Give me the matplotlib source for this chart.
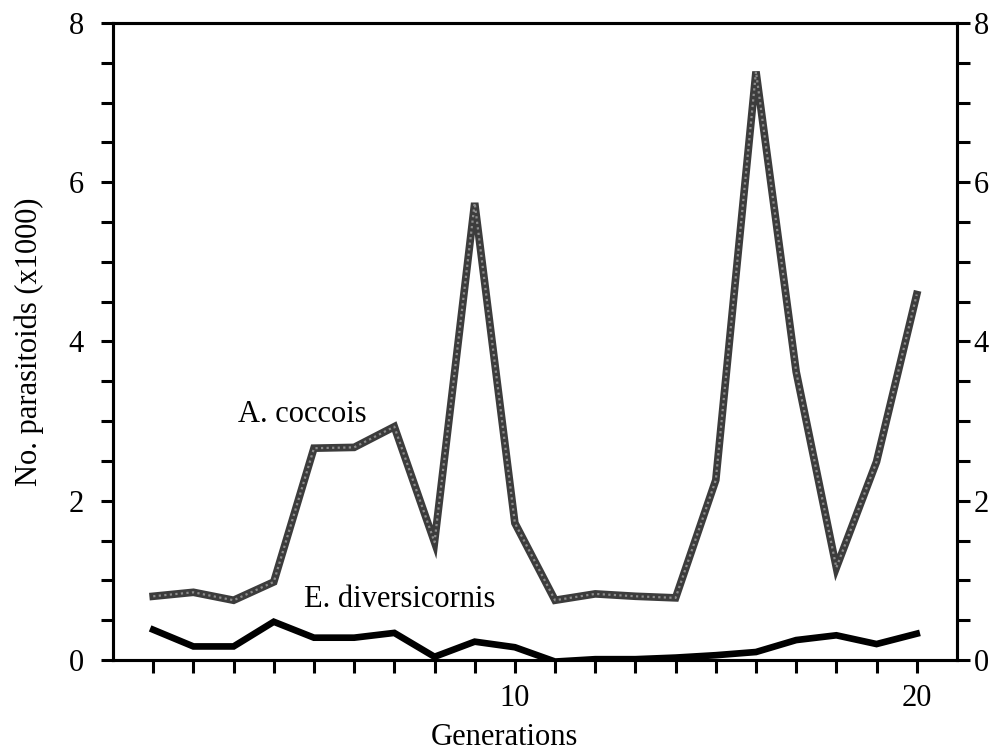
import matplotlib
matplotlib.use("Agg")
import matplotlib.pyplot as plt
from matplotlib.ticker import MultipleLocator, FixedLocator

plt.rcParams["font.family"] = "Liberation Serif"

# values (thousands of parasitoids per generation)
generations = list(range(1, 21))
a_coccois = [0.80, 0.85, 0.75, 0.98, 2.66, 2.67, 2.93, 1.48, 5.74, 1.72,
             0.75, 0.83, 0.80, 0.78, 2.26, 7.39, 3.62, 1.16, 2.49, 4.59]
e_diversicornis = [0.38, 0.17, 0.17, 0.48, 0.28, 0.28, 0.34, 0.04, 0.23, 0.16,
                   -0.02, 0.01, 0.01, 0.03, 0.06, 0.10, 0.25, 0.31, 0.20, 0.33]
x_labels = {10: "10", 20: "20"}

fig = plt.figure(figsize=(10.02, 7.54), dpi=100)
ax = fig.add_axes([0.1128, 0.1247, 0.8422, 0.8448])

# A. coccois: grey stippled line
ax.plot(generations, a_coccois, color="#3c3c3c", lw=5.5, solid_joinstyle="miter", zorder=3)
ax.plot(generations, a_coccois, color="#8c8c8c", lw=1.6, ls=(0, (1, 1.5)), zorder=4)
# E. diversicornis: thick black line
ax.plot(generations, e_diversicornis, color="black", lw=4.8, solid_joinstyle="miter", zorder=3)

ax.set_xlim(0, 21)
ax.set_ylim(0, 8)

for s in ax.spines.values():
    s.set_linewidth(2.2)

ax.xaxis.set_major_locator(FixedLocator(generations))
ax.set_xticklabels([x_labels.get(g, "") for g in generations])
ax.yaxis.set_major_locator(MultipleLocator(2))
ax.yaxis.set_minor_locator(MultipleLocator(0.5))

ax.tick_params(axis="x", which="major", direction="out", length=9, width=2.2,
               labelsize=22, pad=8)
ax.tick_params(axis="y", which="both", direction="out", length=9, width=2.2)
ax.tick_params(axis="y", which="major", labelsize=22, pad=12)

# right-hand axis repeats the same scale
ax2 = ax.twinx()
ax2.set_ylim(ax.get_ylim())
ax2.yaxis.set_major_locator(MultipleLocator(2))
ax2.yaxis.set_minor_locator(MultipleLocator(0.5))
ax2.tick_params(axis="y", which="both", direction="out", length=9, width=2.2)
ax2.tick_params(axis="y", which="major", labelsize=22, pad=3)
for s in ax2.spines.values():
    s.set_linewidth(2.2)

ax.set_xlabel("Generations", fontsize=22, va="baseline")
ax.xaxis.set_label_coords(0.464, -0.1335)
ax.set_ylabel("No. parasitoids (x1000)", fontsize=22, labelpad=18)

ax.text(3.1, 2.99, "A. coccois", fontsize=22, ha="left", va="baseline")
ax.text(4.75, 0.67, "E. diversicornis", fontsize=22, ha="left", va="baseline")

fig.savefig("out.png", dpi=100)
